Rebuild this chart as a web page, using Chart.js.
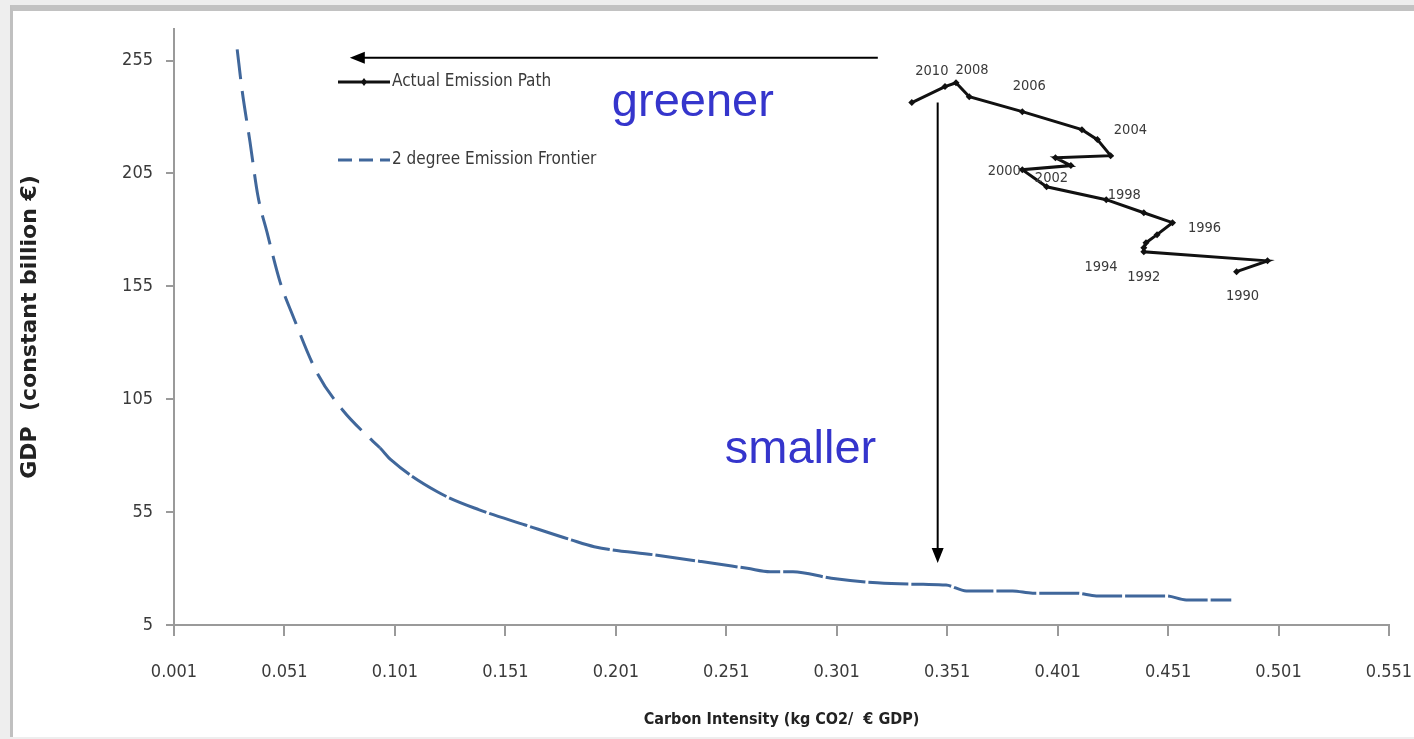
<!DOCTYPE html>
<html>
<head>
<meta charset="utf-8">
<script src="https://cdn.jsdelivr.net/npm/chart.js@4/dist/chart.umd.min.js"></script>
<style>
  html, body { margin: 0; padding: 0; background: #eeeeee; overflow: hidden; }
  #frame {
    position: absolute; left: 10px; top: 5px; right: 0; bottom: 2px;
    background: #fff;
    border-left: 3px solid #c0c0c0;
    border-top: 6px solid #c2c2c2;
  }
  #frame canvas { display: block; }
</style>
</head>
<body>
<div id="frame"><canvas id="myChart"></canvas></div>
<script>
// 2 degree frontier
const frontierX = [0.0296, 0.0318, 0.0354, 0.039, 0.0431, 0.049, 0.0548, 0.0656, 0.0775, 0.0882,
                   0.0942, 0.0994, 0.1202, 0.1392, 0.16, 0.1808, 0.1912, 0.2189, 0.2397, 0.2605,
                   0.2709, 0.2812, 0.2986, 0.3193, 0.3401, 0.3505, 0.3597, 0.3806, 0.3897, 0.4095,
                   0.4185, 0.4502, 0.4592, 0.4796];
const frontierY = [260, 242, 219, 195, 179, 157, 142, 117, 100, 89,
                   83.5, 78, 64, 56, 49.3, 42.7, 39.7, 36, 33.1, 30.1,
                   28.6, 28.6, 25.7, 23.7, 23, 22.7, 20.1, 20.1, 19.1, 19.1,
                   17.9, 17.9, 16.1, 16.1];

// actual emission path 1990..2010
const pathYears = [1990, 1991, 1992, 1993, 1994, 1995, 1996, 1997, 1998, 1999, 2000,
                   2001, 2002, 2003, 2004, 2005, 2006, 2007, 2008, 2009, 2010];
const pathX = [0.482, 0.496, 0.440, 0.440, 0.441, 0.446, 0.453, 0.440, 0.423, 0.396, 0.385,
               0.407, 0.400, 0.425, 0.419, 0.412, 0.385, 0.361, 0.355, 0.350, 0.335];
const pathY = [161.5, 166.3, 170.3, 172.1, 174.3, 177.9, 183.2, 187.6, 193.4, 199.1, 206.7,
               208.5, 212.0, 212.9, 220.0, 224.4, 232.4, 239.0, 245.2, 243.5, 236.4];
const labelledYears = [1990, 1992, 1994, 1996, 1998, 2000, 2002, 2004, 2006, 2008, 2010];

const xTicks = [0.001, 0.051, 0.101, 0.151, 0.201, 0.251, 0.301, 0.351, 0.401, 0.451, 0.501, 0.551];
const yTicks = [5, 55, 105, 155, 205, 255];

const NARROW = '"Liberation Sans Narrow", "DejaVu Sans Condensed", "Open Sans", sans-serif';
const BLUE = '#40679b';

// where each year label sits relative to its point (px)
const yearLabelOffset = {
  1990: [6, 25], 1992: [0, 25], 1994: [-45, 24], 1996: [32, 6], 1998: [18, -4],
  2000: [-18, 2], 2002: [-4, 21], 2004: [33, -9], 2006: [7, -25], 2008: [16, -12], 2010: [20, -31]
};

// annotation arrows + words, in data units
const greenerArrow = { x0: 0.3196, x1: 0.0806, y: 256.3 };
const smallerArrow = { x: 0.3467, y0: 236.4, y1: 32.5 };
const words = [
  { text: 'greener', x: 0.1992, y: 230.6 },
  { text: 'smaller', x: 0.2503, y: 76.8 }
];

function arrowHead(ctx, x, y, dir) {
  ctx.beginPath();
  if (dir == 'left') {
    ctx.moveTo(x, y); ctx.lineTo(x + 15, y - 6); ctx.lineTo(x + 15, y + 6);
  } else {
    ctx.moveTo(x, y); ctx.lineTo(x - 6, y - 15); ctx.lineTo(x + 6, y - 15);
  }
  ctx.closePath();
  ctx.fill();
}

const overlay = {
  id: 'overlay',
  afterDatasetsDraw(chart) {
    const ctx = chart.ctx, xs = chart.scales.x, ys = chart.scales.y, area = chart.chartArea;
    ctx.save();

    // year labels
    ctx.fillStyle = '#3a3a3a';
    ctx.font = '14.5px ' + NARROW;
    ctx.textAlign = 'center';
    ctx.textBaseline = 'middle';
    labelledYears.forEach((yr) => {
      const i = pathYears.indexOf(yr);
      const off = yearLabelOffset[yr];
      ctx.fillText(String(yr), xs.getPixelForValue(pathX[i]) + off[0], ys.getPixelForValue(pathY[i]) + off[1]);
    });

    // arrows
    ctx.strokeStyle = '#000';
    ctx.fillStyle = '#000';
    ctx.lineWidth = 2;
    let ax0 = xs.getPixelForValue(greenerArrow.x0), ax1 = xs.getPixelForValue(greenerArrow.x1);
    let ay = ys.getPixelForValue(greenerArrow.y);
    ctx.beginPath(); ctx.moveTo(ax0, ay); ctx.lineTo(ax1 + 10, ay); ctx.stroke();
    arrowHead(ctx, ax1, ay, 'left');

    let vx = xs.getPixelForValue(smallerArrow.x);
    let vy0 = ys.getPixelForValue(smallerArrow.y0), vy1 = ys.getPixelForValue(smallerArrow.y1);
    ctx.beginPath(); ctx.moveTo(vx, vy0); ctx.lineTo(vx, vy1 - 10); ctx.stroke();
    arrowHead(ctx, vx, vy1, 'down');

    ctx.fillStyle = '#3535cc';
    ctx.font = '47px "Liberation Sans", Arial, sans-serif';
    ctx.textAlign = 'left';
    ctx.textBaseline = 'alphabetic';
    words.forEach((w) => ctx.fillText(w.text, xs.getPixelForValue(w.x), ys.getPixelForValue(w.y)));

    // legend, inside the plot
    const lx = area.left + 164, ly1 = area.top + 53, ly2 = area.top + 131;
    ctx.lineWidth = 3;
    ctx.strokeStyle = '#111';
    ctx.beginPath(); ctx.moveTo(lx, ly1); ctx.lineTo(lx + 52, ly1); ctx.stroke();
    ctx.fillStyle = '#111';
    ctx.beginPath(); ctx.moveTo(lx + 26, ly1 - 4); ctx.lineTo(lx + 29, ly1); ctx.lineTo(lx + 26, ly1 + 4); ctx.lineTo(lx + 23, ly1); ctx.fill();
    ctx.strokeStyle = BLUE;
    ctx.setLineDash([14, 7]);
    ctx.beginPath(); ctx.moveTo(lx, ly2); ctx.lineTo(lx + 52, ly2); ctx.stroke();
    ctx.setLineDash([]);
    ctx.fillStyle = '#3a3a3a';
    ctx.font = '17px ' + NARROW;
    ctx.textBaseline = 'middle';
    ctx.fillText('Actual Emission Path', lx + 54, ly1);
    ctx.fillText('2 degree Emission Frontier', lx + 54, ly2);

    ctx.restore();
  }
};

var ctx = document.getElementById('myChart').getContext('2d');
var myChart = new Chart(ctx, {
  type: 'line',
  data: {
    datasets: [
      {
        label: '2 degree Emission Frontier',
        data: frontierX.map((x, i) => ({ x: x, y: frontierY[i] })),
        borderColor: BLUE,
        borderWidth: 3,
        borderDash: [40, 3],
        segment: {
          borderDash: (c) => c.p0.parsed.x < 0.09 ? [30, 12] : [40, 3]
        },
        cubicInterpolationMode: 'monotone',
        pointRadius: 0,
        fill: false
      },
      {
        label: 'Actual Emission Path',
        data: pathX.map((x, i) => ({ x: x, y: pathY[i] })),
        borderColor: '#111',
        backgroundColor: '#111',
        borderWidth: 3,
        tension: 0,
        pointStyle: 'rectRot',
        pointRadius: 3.5,
        pointBorderWidth: 0,
        fill: false
      }
    ]
  },
  options: {
    responsive: true,
    maintainAspectRatio: false,
    animation: false,
    layout: { padding: { top: 18, right: 25, left: 0, bottom: 0 } },
    plugins: {
      legend: { display: false },
      tooltip: { enabled: false }
    },
    scales: {
      x: {
        type: 'linear',
        min: 0.001,
        max: 0.551,
        afterBuildTicks: (axis) => { axis.ticks = xTicks.map((v) => ({ value: v })) },
        // fixed size, no extra room for the end labels
        afterFit: (axis) => { axis.height = 112; axis.paddingLeft = 0; axis.paddingRight = 0 },
        ticks: {
          autoSkip: false, maxRotation: 0, padding: 26,
          color: '#3a3a3a',
          font: { family: NARROW, size: 18 },
          callback: (v) => Number(v).toFixed(3)
        },
        grid: { drawOnChartArea: false, tickLength: 11, color: '#9a9a9a', lineWidth: 2 },
        border: { color: '#9a9a9a', width: 2 },
        title: {
          display: true,
          text: 'Carbon Intensity (kg CO2/  € GDP)',
          color: '#222',
          font: { family: NARROW, size: 16, weight: 'bold' },
          padding: { top: 0, bottom: 8 }
        }
      },
      y: {
        type: 'linear',
        min: 5,
        max: 269,
        afterBuildTicks: (axis) => { axis.ticks = yTicks.map((v) => ({ value: v })) },
        afterFit: (axis) => { axis.width = 161; axis.paddingTop = 0; axis.paddingBottom = 0 },
        ticks: {
          padding: 13,
          color: '#3a3a3a',
          font: { family: NARROW, size: 18 }
        },
        grid: { drawOnChartArea: false, tickLength: 8, color: '#9a9a9a', lineWidth: 2 },
        border: { color: '#9a9a9a', width: 2 },
        title: {
          display: true,
          text: 'GDP  (constant billion €)',
          color: '#222',
          font: { family: '"DejaVu Sans", Verdana, sans-serif', size: 22, weight: 'bold' },
          padding: { top: 4, bottom: 0 }
        }
      }
    }
  },
  plugins: [overlay]
});
</script>
</body>
</html>
